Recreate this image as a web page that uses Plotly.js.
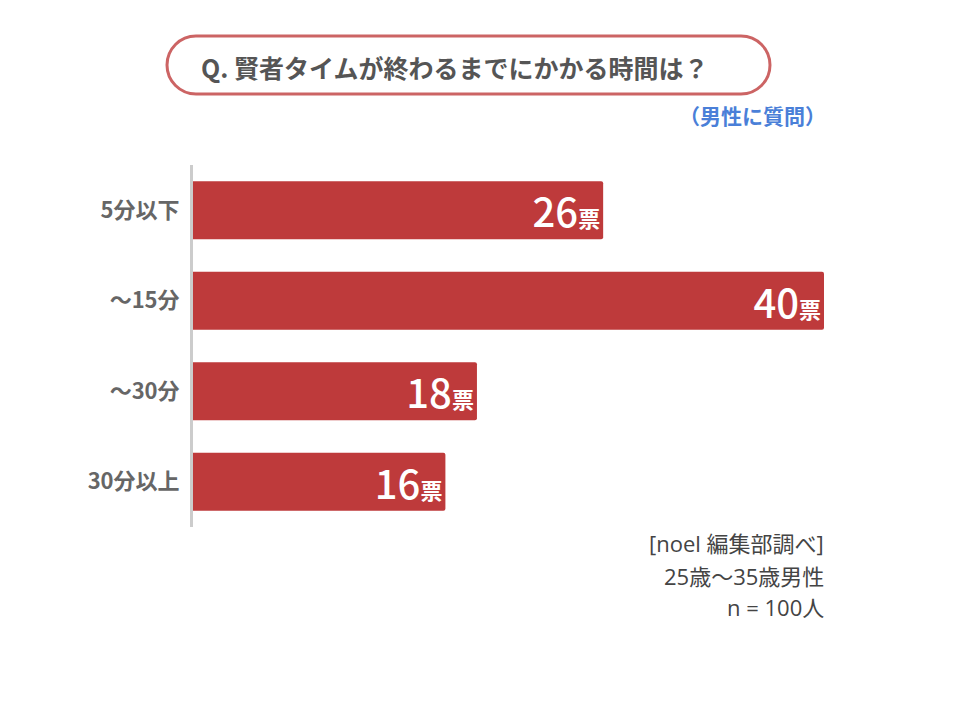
<!DOCTYPE html>
<html><head><meta charset="utf-8">
<script src="https://cdn.plot.ly/plotly-3.0.1.min.js"></script>
<style>html,body{margin:0;padding:0;background:#fff;}#chart{width:960px;height:720px;}</style>
</head><body><div id="chart"></div>
<script>
const categories = ["5分以下", "～15分", "～30分", "30分以上"];
const votes = [26, 40, 18, 16];
const unitLabel = "票";
const titleText = "Q. 賢者タイムが終わるまでにかかる時間は？";
const subText = "（男性に質問）";
const noteLines = ["[noel 編集部調べ]", "25歳～35歳男性", "n = 100人"];

const W = 960, H = 720;
const mL = 193, mR = 136, mT = 165, mB = 193;
const pw = W - mL - mR, ph = H - mT - mB;
const px = x => (x - mL) / pw;
const py = y => (H - mB - y) / ph;

function pill(x0, y0, x1, y1) {
  const r = (y1 - y0) / 2, k = 0.5523 * r;
  const P = (x, y) => px(x).toFixed(5) + "," + py(y).toFixed(5);
  return "M" + P(x0 + r, y0) + " L" + P(x1 - r, y0) +
    " C" + P(x1 - r + k, y0) + " " + P(x1, y0 + r - k) + " " + P(x1, y0 + r) +
    " C" + P(x1, y0 + r + k) + " " + P(x1 - r + k, y1) + " " + P(x1 - r, y1) +
    " L" + P(x0 + r, y1) +
    " C" + P(x0 + r - k, y1) + " " + P(x0, y0 + r + k) + " " + P(x0, y0 + r) +
    " C" + P(x0, y0 + r - k) + " " + P(x0 + r - k, y0) + " " + P(x0 + r, y0) + " Z";
}

const cjk = '"Noto Sans CJK JP", "Noto Sans", sans-serif';
const latinCjk = '"Open Sans", "Noto Sans CJK JP", sans-serif';

const trace = {
  type: "bar",
  orientation: "h",
  y: categories,
  x: votes,
  width: 0.64,
  marker: { color: "#be3a3b", cornerradius: 2 },
  texttemplate: "%{x}<span style='font-size:22px;font-weight:700'>" + unitLabel + "</span>",
  textposition: "inside",
  insidetextanchor: "end",
  constraintext: "none",
  textfont: { color: "#ffffff", size: 40, family: cjk, weight: 500 },
  hoverinfo: "none",
  cliponaxis: false
};

const layout = {
  width: W, height: H,
  margin: { l: mL, r: mR, t: mT, b: mB, pad: 0 },
  paper_bgcolor: "#ffffff",
  plot_bgcolor: "#ffffff",
  showlegend: false,
  bargap: 0.36,
  xaxis: { range: [0, 40], visible: false, fixedrange: true },
  yaxis: {
    autorange: false, range: [3.5, -0.5], type: "category",
    showline: true, linecolor: "#cccccc", linewidth: 3,
    showgrid: false, zeroline: false, ticks: "", ticklabelstandoff: 6,
    tickfont: { family: cjk, size: 22, color: "#666666", weight: "bold" }
  },
  shapes: [{
    type: "path", xref: "paper", yref: "paper",
    path: pill(167, 36, 770, 94),
    line: { color: "#cc6464", width: 3 },
    fillcolor: "rgba(0,0,0,0)"
  }],
  annotations: [
    { xref: "paper", yref: "paper", x: px(199), y: py(67), xanchor: "left", yanchor: "middle",
      text: titleText, showarrow: false,
      font: { family: cjk, size: 25, color: "#555555", weight: "bold" } },
    { xref: "paper", yref: "paper", x: px(828), y: py(115), xanchor: "right", yanchor: "middle",
      text: subText, showarrow: false,
      font: { family: cjk, size: 21, color: "#4a7fd8", weight: "bold" } },
    { xref: "paper", yref: "paper", x: px(826), y: py(543), xanchor: "right", yanchor: "middle",
      text: noteLines[0], showarrow: false,
      font: { family: latinCjk, size: 22, color: "#444444" } },
    { xref: "paper", yref: "paper", x: px(826), y: py(576), xanchor: "right", yanchor: "middle",
      text: noteLines[1], showarrow: false,
      font: { family: latinCjk, size: 22, color: "#444444" } },
    { xref: "paper", yref: "paper", x: px(826), y: py(607), xanchor: "right", yanchor: "middle",
      text: noteLines[2], showarrow: false,
      font: { family: latinCjk, size: 22, color: "#444444" } }
  ]
};

Plotly.newPlot("chart", [trace], layout, { displayModeBar: false, staticPlot: true });
</script>
</body></html>
